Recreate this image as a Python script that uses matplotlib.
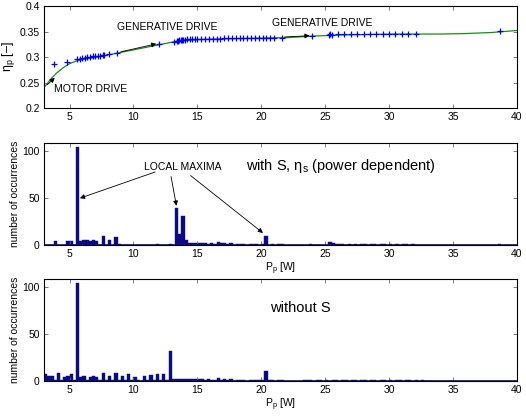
import matplotlib

matplotlib.use("Agg")
import matplotlib.pyplot as plt
import numpy as np

plt.rcParams.update({"font.family": ["Liberation Sans", "DejaVu Sans"], "font.size": 7,
                     "mathtext.fontset": "custom", "mathtext.rm": "Liberation Sans",
                     "mathtext.it": "Liberation Sans:italic"})

BAR = "#0b0b8a"
BIN_W = 0.25

# ---- top: efficiency points + fitted curve -------------------------------
pts_x = [3.8, 4.8, 5.6, 5.8, 6.0, 6.2, 6.4, 6.6, 6.8, 7.0, 7.2, 7.4, 7.6, 7.7, 8.1, 8.7,
         12.0, 13.2, 13.4, 13.5, 13.6, 13.7, 13.8, 13.9, 14.0, 14.2, 14.4, 14.6, 14.8,
         15.0, 15.3, 15.6, 15.9, 16.2, 16.5, 16.8, 17.1, 17.4, 17.7, 18.0, 18.3, 18.6,
         18.9, 19.2, 19.5, 19.8, 20.1, 20.4, 20.7, 21.0, 21.6, 24.0, 25.3, 25.4, 25.5,
         26.0, 26.5, 27.0, 27.5, 28.0, 28.5, 29.0, 29.5, 30.0, 30.5, 31.0, 31.5, 32.1, 38.7]
pts_y = [0.286, 0.290, 0.296, 0.297, 0.298, 0.299, 0.300, 0.300, 0.301, 0.301, 0.302,
         0.302, 0.303, 0.304, 0.305, 0.307,
         0.326, 0.330, 0.331, 0.332, 0.333, 0.333, 0.334, 0.334, 0.334, 0.335, 0.335,
         0.335, 0.336, 0.336, 0.336, 0.336, 0.336, 0.336, 0.336, 0.336, 0.337, 0.337,
         0.337, 0.337, 0.337, 0.337, 0.337, 0.337, 0.337, 0.337, 0.338, 0.338, 0.338,
         0.338, 0.338, 0.342, 0.344, 0.345, 0.344, 0.345, 0.345, 0.345, 0.345, 0.345,
         0.345, 0.345, 0.345, 0.345, 0.345, 0.345, 0.345, 0.345, 0.351]
curve_x = [3.0, 3.5, 4.0, 4.5, 5.0, 5.5, 6.0, 7.0, 8.0, 9.0, 10.0, 11.0, 12.0, 13.0, 14.0,
           15.0, 16.0, 18.0, 20.0, 22.0, 24.0, 26.0, 28.0, 30.0, 32.0, 34.0, 36.0, 38.0, 40.0]
curve_y = [0.240, 0.256, 0.269, 0.279, 0.287, 0.292, 0.295, 0.299, 0.304, 0.309, 0.314,
           0.319, 0.324, 0.329, 0.332, 0.334, 0.335, 0.336, 0.337, 0.338, 0.341, 0.343,
           0.344, 0.345, 0.345, 0.345, 0.346, 0.348, 0.352]

# ---- middle: histogram with S (bin left edges, counts) -------------------
mid_edges = [3.75, 4.75, 5.0, 5.5, 5.75, 6.0, 6.25, 6.5, 6.75, 7.0, 7.5, 8.0, 8.5, 8.75,
             11.75, 12.75, 13.25, 13.5, 13.75, 14.0, 14.25, 14.5, 14.75, 15.0, 15.25,
             15.5, 15.75, 16.0, 16.25, 16.5, 16.75, 17.0, 17.25, 17.5, 18.0, 18.25, 18.5,
             19.0, 19.25, 19.5, 20.0, 20.25, 20.75, 21.25, 21.5, 23.75, 25.25, 25.5,
             25.75, 26.0, 26.25, 26.75, 27.25, 27.75, 28.0, 28.5, 28.75, 29.25, 29.5,
             30.0, 30.5, 31.0, 31.25, 31.75, 38.5]
mid_counts = [4, 4, 4, 105, 4, 5, 5, 4, 5, 4, 10, 5, 9, 1,
              1, 1, 40, 12, 31, 5, 2, 2, 2, 2, 2,
              2, 1, 2, 1, 3, 2, 2, 1, 2, 1, 1, 1,
              1, 1, 1, 1, 10, 1, 1, 1, 1, 3, 2,
              1, 1, 1, 1, 1, 1, 1, 1, 1, 1, 1,
              1, 1, 1, 1, 1, 1]

# ---- bottom: histogram without S ------------------------------------------
bot_edges = [3.0, 3.25, 3.5, 3.75, 4.0, 4.25, 4.5, 4.75, 5.0, 5.25, 5.5, 5.75, 6.0, 6.25,
             6.5, 6.75, 7.0, 7.25, 7.5, 7.75, 8.0, 8.25, 8.5, 8.75, 9.0, 9.25, 9.5, 9.75,
             10.0, 10.25, 10.75, 11.0, 11.25, 11.5, 11.75, 12.0, 12.25, 12.5, 12.75,
             13.0, 13.25, 13.5, 13.75, 14.0, 14.25, 14.5, 14.75, 15.0, 15.25, 15.5, 15.75,
             16.0, 16.25, 16.5, 16.75, 17.0, 17.25, 17.5, 18.0, 18.25, 18.5, 19.0, 19.25,
             19.5, 19.75, 20.0, 20.25, 20.5, 20.75, 21.25, 21.5, 23.25, 23.5, 23.75, 24.25,
             24.5, 25.0, 25.5, 25.75, 26.25, 26.5, 27.0, 27.25, 27.75, 28.0, 28.5, 28.75,
             29.25, 29.5, 30.0, 30.5, 30.75, 31.25, 31.5, 32.0, 32.5]
bot_counts = [8, 5, 5, 1, 9, 1, 4, 5, 8, 1, 105, 4, 5, 1,
              4, 5, 4, 1, 9, 1, 5, 1, 9, 1, 5, 1, 8, 1,
              4, 1, 5, 1, 6, 1, 7, 1, 7, 1, 32,
              2, 2, 2, 2, 2, 2, 2, 2, 2, 2, 1, 2,
              1, 1, 3, 1, 2, 1, 2, 1, 1, 1, 1, 1,
              1, 1, 1, 11, 1, 1, 1, 1, 1, 1, 1, 1,
              1, 1, 1, 1, 1, 1, 1, 1, 1, 1, 1, 1,
              1, 1, 1, 1, 1, 1, 1, 1, 1]

fig = plt.figure(figsize=(5.26, 4.17), dpi=100)
ax1 = fig.add_axes([0.0837, 0.741, 0.899, 0.2446])
ax2 = fig.add_axes([0.0837, 0.4125, 0.899, 0.2446])
ax3 = fig.add_axes([0.0837, 0.0863, 0.899, 0.2446])

for ax in (ax1, ax2, ax3):
    ax.set_xlim(3, 40)
    ax.set_xticks(range(5, 41, 5))
    ax.tick_params(direction="in", top=True, right=True, length=3, width=0.6,
                   color="0.4", labelsize=7.5, pad=3)
    for s in ax.spines.values():
        s.set_linewidth(0.8)

ax1.plot(curve_x, curve_y, color="#1a8a1a", lw=0.9)
ax1.plot(pts_x, pts_y, "+", color="#0000ff", ms=5, mew=0.9)
ax1.set_ylim(0.2, 0.4)
ax1.set_yticks([0.2, 0.25, 0.3, 0.35, 0.4])
ax1.set_yticklabels(["0.2", "0.25", "0.3", "0.35", "0.4"])
ax1.set_ylabel(r"η$_\mathregular{p}$ [–]", fontsize=9, labelpad=2)
arw = dict(arrowstyle="-|>", color="black", lw=0.6, mutation_scale=7)
ax1.annotate("", xy=(12.0, 0.327), xytext=(8.8, 0.309), arrowprops=arw)
ax1.text(8.7, 0.353, "GENERATIVE DRIVE", fontsize=7.5)
ax1.annotate("", xy=(24.0, 0.342), xytext=(21.6, 0.339), arrowprops=arw)
ax1.text(20.8, 0.360, "GENERATIVE DRIVE", fontsize=7.5)
ax1.annotate("", xy=(4.0, 0.263), xytext=(3.1, 0.242), arrowprops=arw)
ax1.text(3.8, 0.232, "MOTOR DRIVE", fontsize=7.5)

for ax, edges, counts in ((ax2, mid_edges, mid_counts), (ax3, bot_edges, bot_counts)):
    ax.bar(edges, counts, width=BIN_W, align="edge", color=BAR, edgecolor=BAR, lw=0.3)
    ax.axhline(0, color=BAR, lw=1.2)
    ax.set_ylim(0, 109)
    ax.set_yticks([0, 50, 100])
    ax.set_ylabel("number of occurrences", fontsize=7.5, labelpad=2)
    ax.set_xlabel(r"P$_\mathregular{p}$ [W]", fontsize=7.5, labelpad=1)

ax2.text(10.8, 80, "LOCAL MAXIMA", fontsize=7.5)
ax2.annotate("", xy=(5.6, 49), xytext=(11.9, 79), arrowprops=arw)
ax2.annotate("", xy=(13.4, 39), xytext=(12.9, 76), arrowprops=arw)
ax2.annotate("", xy=(20.3, 11), xytext=(14.3, 76), arrowprops=arw)
ax2.text(18.8, 80, r"with S, η$_\mathregular{s}$ (power dependent)", fontsize=10.5)

ax3.text(20.7, 74, "without S", fontsize=10.5)

fig.savefig("out.png", dpi=100)
